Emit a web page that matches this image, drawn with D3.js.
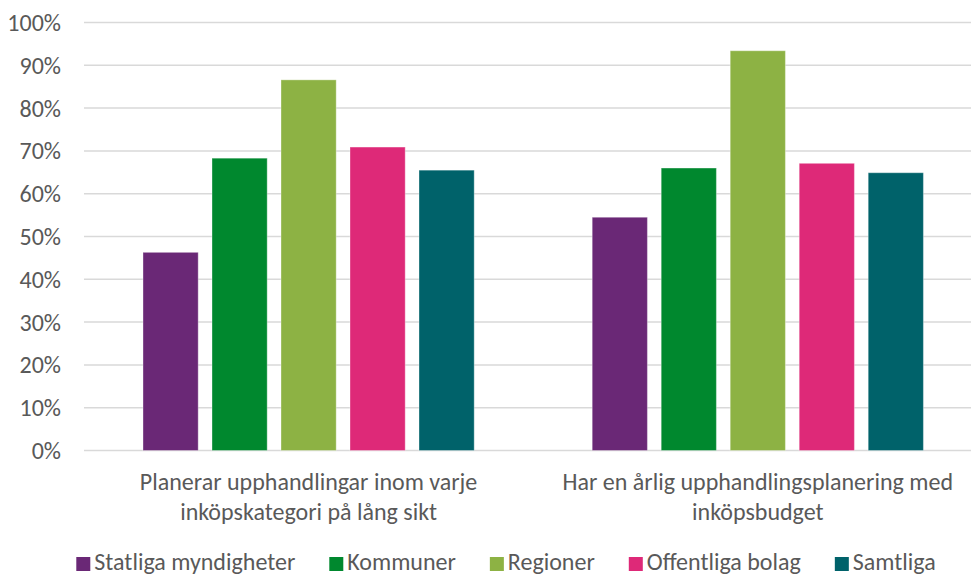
<!DOCTYPE html>
<html>
<head>
<meta charset="utf-8">
<script src="https://cdn.jsdelivr.net/npm/d3@7"></script>
<style>
  body { margin: 0; background: #fff; }
  svg text { font-family: Calibri, Carlito, Lato, sans-serif; fill: #595959; }
</style>
</head>
<body>
<svg id="chart"></svg>
<script>
const categories = [
  ['Planerar upphandlingar inom varje', 'inköpskategori på lång sikt'],
  ['Har en årlig upphandlingsplanering med', 'inköpsbudget']
];
const seriesNames = ['Statliga myndigheter', 'Kommuner', 'Regioner', 'Offentliga bolag', 'Samtliga'];
const seriesColors = ['#6A2876', '#00882E', '#8DB244', '#DE2978', '#00626A'];
const values = [
  [46.3, 68.3, 86.6, 70.9, 65.5],
  [54.5, 66.0, 93.4, 67.1, 64.9]
];
const yTicks = [0, 10, 20, 30, 40, 50, 60, 70, 80, 90, 100];

const width = 971, height = 576;
const svg = d3.select('#chart').attr('width', width).attr('height', height);

const y = d3.scaleLinear().domain([0, 100]).range([450.5, 22.5]);

const x0 = d3.scaleBand()
              .domain(d3.range(categories.length))
              .range([84, 982.4]);

const x1 = d3.scaleBand()
              .domain(d3.range(seriesNames.length))
              .range([0, x0.bandwidth()])
              .paddingInner(0.2)
              .paddingOuter(0.855);

// gridlines
svg.append('g')
    .selectAll('line')
    .data(yTicks)
    .enter()
    .append('line')
      .attr('x1', 84)
      .attr('x2', width)
      .attr('y1', d => y(d))
      .attr('y2', d => y(d))
      .attr('stroke', '#D9D9D9')
      .attr('stroke-width', 1.5);

// y labels
svg.append('g')
    .selectAll('text')
    .data(yTicks)
    .enter()
    .append('text')
      .attr('x', 61)
      .attr('y', d => y(d))
      .attr('dy', '0.35em')
      .attr('font-size', '24px')
      .style('text-anchor', 'end')
      .text(d => d + '%');

// bars
const groups = svg.append('g')
    .selectAll('g')
    .data(values)
    .enter()
    .append('g')
      .attr('transform', (d, i) => 'translate(' + x0(i) + ',0)');

groups.selectAll('rect')
    .data(d => d)
    .enter()
    .append('rect')
      .attr('x', (d, i) => x1(i))
      .attr('width', x1.bandwidth())
      .attr('y', d => y(d))
      .attr('height', d => y(0) - y(d))
      .attr('fill', (d, i) => seriesColors[i])
      .attr('stroke', '#fff')
      .attr('stroke-opacity', 0.35)
      .attr('stroke-width', 1);

// category labels
const cat = svg.append('g')
    .selectAll('text')
    .data(categories)
    .enter()
    .append('text')
      .attr('x', (d, i) => x0(i) + x0.bandwidth() / 2)
      .attr('y', 490)
      .attr('font-size', '24px')
      .style('text-anchor', 'middle');

cat.selectAll('tspan')
    .data(d => d)
    .enter()
    .append('tspan')
      .attr('x', function () { return d3.select(this.parentNode).attr('x'); })
      .attr('dy', (d, i) => i === 0 ? 0 : 30)
      .text(d => d);

// legend
const legend = svg.append('g');
const items = legend.selectAll('g')
    .data(seriesNames)
    .enter()
    .append('g');

items.append('rect')
    .attr('width', 14)
    .attr('height', 14)
    .attr('y', 557)
    .attr('fill', (d, i) => seriesColors[i]);

items.append('text')
    .attr('x', 18)
    .attr('y', 570)
    .attr('font-size', '24px')
    .text(d => d);

let pos = 0;
const offsets = [];
items.each(function () {
  offsets.push(pos);
  pos += 18 + d3.select(this).select('text').node().getComputedTextLength() + 34;
});
const total = pos - 34;
const startX = 506 - total / 2;
items.attr('transform', (d, i) => 'translate(' + (startX + offsets[i]) + ',0)');
</script>
</body>
</html>
